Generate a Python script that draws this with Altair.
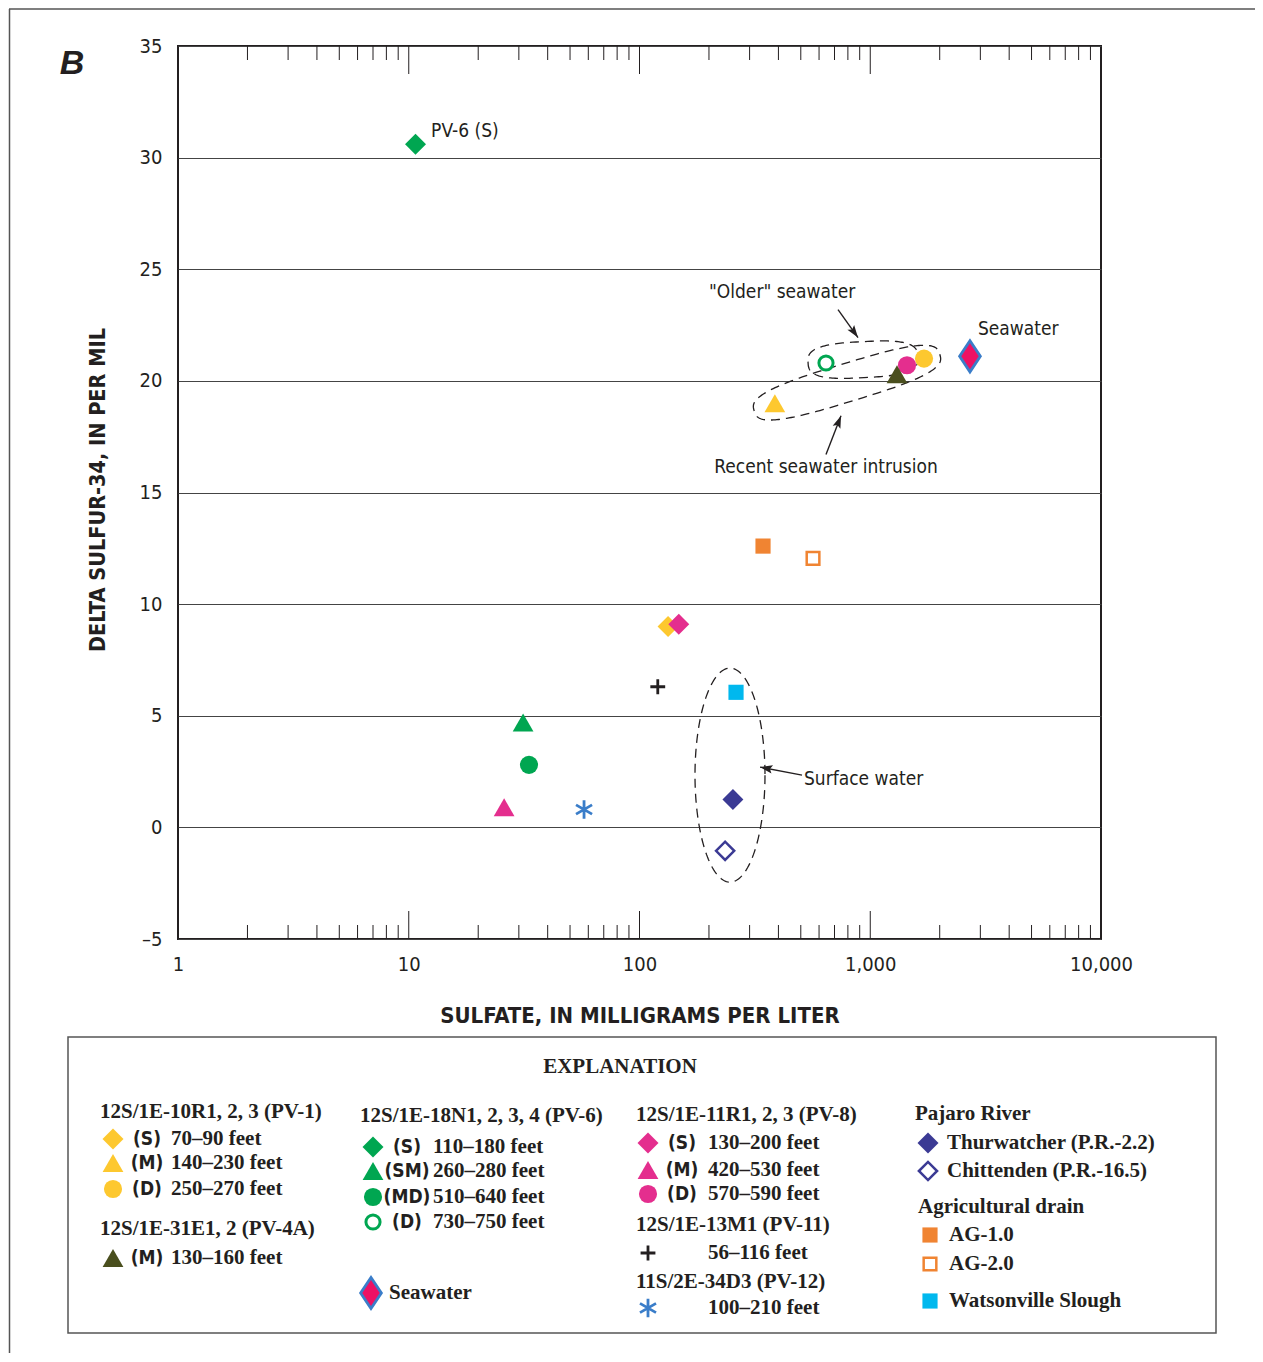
import altair as alt
import numpy as np
import pandas as pd

# ---------------- data ----------------
series = ["PV-6 (S)", "PV-6 (SM)", "PV-6 (MD)", "PV-6 (D)", "PV-8 (M)", "PV-8 (D)",
          "PV-4A (M)", "PV-1 (D)", "PV-1 (M)", "Seawater", "AG-1.0", "AG-2.0",
          "PV-1 (S)", "PV-8 (S)", "PV-11", "Watsonville Slough", "PV-12",
          "Thurwatcher", "Chittenden"]
sulfate = [10.7, 31.3, 33.2, 643, 25.9, 1443, 1306, 1710, 386, 2705, 343, 565,
           133, 148, 120, 262, 57.5, 254, 235]
delta34 = [30.6, 4.7, 2.8, 20.8, 0.9, 20.7, 20.3, 21.0, 19.0, 21.1, 12.6, 12.05,
           9.0, 9.1, 6.3, 6.05, 0.8, 1.25, -1.05]

y_ticks = [-5, 0, 5, 10, 15, 20, 25, 30, 35]
x_labels = [1, 10, 100, 1000, 10000]

ann_text = ["PV-6 (S)", "\"Older\" seawater", "Seawater", "Recent seawater intrusion", "Surface water"]
ann_x = [12.5, 415, 2930, 643, 516]
ann_y = [31.2, 24.0, 22.34, 16.12, 2.16]
ann_align = ["left", "center", "left", "center", "left"]

arrow_name = ["older", "recent", "surface"]
arrow_tail_x = [725, 643, 506]
arrow_tail_y = [23.19, 16.70, 2.34]
arrow_tip_x = [885, 747, 333]
arrow_tip_y = [21.94, 18.44, 2.70]

encl_name = ["older", "recent", "surface"]
encl_cx = [930, 793, 246.7]
encl_cy = [20.95, 19.92, 2.34]

# ---------------- styles / layout ----------------
W, H = 923, 893
OX, OY = 178, 46  # plot origin on the page
DARK = "#231F20"
SANS = "'Liberation Sans Narrow', 'DejaVu Sans Condensed', 'Roboto Condensed', Roboto, sans-serif"
SERIF = "'Liberation Serif', 'Times New Roman', serif"

YEL, GRN, PNK, OLV = "#FDC82F", "#00A651", "#E42E8E", "#4A4F1E"
ORG, CYN, NAVY, BLU, SEA = "#F08432", "#00B8EE", "#3B3A94", "#3A7DC9", "#ED1164"
PLUS = "M-1,0L1,0M0,-1L0,1"
AST = "M0,-1L0,1M-0.87,-0.5L0.87,0.5M-0.87,0.5L0.87,-0.5"
SEAD = "M0,-1.5L1,0L0,1.5L-1,0Z"

style = {  # shape, fill, stroke, strokeWidth, size
    "PV-1 (S)": ("diamond", YEL, YEL, 0, 440),
    "PV-1 (M)": ("triangle-up", YEL, YEL, 0, 430),
    "PV-1 (D)": ("circle", YEL, YEL, 0, 330),
    "PV-4A (M)": ("triangle-up", OLV, OLV, 0, 430),
    "PV-6 (S)": ("diamond", GRN, GRN, 0, 440),
    "PV-6 (SM)": ("triangle-up", GRN, GRN, 0, 430),
    "PV-6 (MD)": ("circle", GRN, GRN, 0, 330),
    "PV-6 (D)": ("circle", "white", GRN, 3, 200),
    "PV-8 (S)": ("diamond", PNK, PNK, 0, 440),
    "PV-8 (M)": ("triangle-up", PNK, PNK, 0, 430),
    "PV-8 (D)": ("circle", PNK, PNK, 0, 330),
    "PV-11": ("PLUS", "white", DARK, 2.8, 220),
    "PV-12": ("AST", "white", BLU, 2.8, 340),
    "Thurwatcher": ("diamond", NAVY, NAVY, 0, 440),
    "Chittenden": ("diamond", "white", NAVY, 2.5, 330),
    "AG-1.0": ("square", ORG, ORG, 0, 230),
    "AG-2.0": ("square", "white", ORG, 2.5, 160),
    "Watsonville Slough": ("square", CYN, CYN, 0, 230),
    "Seawater": ("SEAD", SEA, BLU, 2.8, 430),
}
shape_map = {"PLUS": PLUS, "AST": AST, "SEAD": SEAD}

encl_a = [55, 97, 35]      # half-length in px
encl_b = [18, 19, 107]     # half-width in px
encl_rot = [3, 17, 0]      # degrees, counter-clockwise
encl_pow = [3.0, 3.0, 2.0]


def to_px(xv, yv):
    return W * np.log10(xv) / 4.0, H * (35 - np.asarray(yv)) / 40.0


def to_data(px, py):
    return 10 ** (4.0 * np.asarray(px) / W), 35 - 40.0 * np.asarray(py) / H


def style_cols(keys):
    return dict(
        shape=[shape_map.get(style[k][0], style[k][0]) for k in keys],
        fill=[style[k][1] for k in keys],
        stroke=[style[k][2] for k in keys],
        sw=[style[k][3] for k in keys],
        size=[style[k][4] for k in keys],
    )


# ---------------- tables ----------------
pts = pd.DataFrame(dict(series=series, x=sulfate, y=delta34, **style_cols(series)))

rows = []
for i, name in enumerate(encl_name):
    pcx, pcy = to_px(encl_cx[i], encl_cy[i])
    t = np.linspace(0, 2 * np.pi, 181)
    ct, st = np.cos(t), np.sin(t)
    p = encl_pow[i]
    ex = encl_a[i] * np.sign(ct) * np.abs(ct) ** (2 / p)
    ey = encl_b[i] * np.sign(st) * np.abs(st) ** (2 / p)
    th = np.radians(encl_rot[i])
    px = pcx + ex * np.cos(th) + ey * np.sin(th)
    py = pcy - ex * np.sin(th) + ey * np.cos(th)
    dx, dy = to_data(px, py)
    for j in range(len(t)):
        rows.append(dict(name=name, i=j, x=dx[j], y=dy[j]))
encl = pd.DataFrame(rows)

arr = pd.DataFrame(dict(name=arrow_name, x=arrow_tail_x, y=arrow_tail_y,
                        x2=arrow_tip_x, y2=arrow_tip_y))
tpx, tpy = to_px(np.array(arrow_tail_x), np.array(arrow_tail_y))
hpx, hpy = to_px(np.array(arrow_tip_x), np.array(arrow_tip_y))
arr["ang"] = np.mod(np.degrees(np.arctan2(hpx - tpx, -(hpy - tpy))), 360)

ann = pd.DataFrame(dict(text=ann_text, x=ann_x, y=ann_y, al=ann_align))

minor = [m * 10 ** k for k in range(4) for m in range(2, 10)]
major = [10, 100, 1000]
ticks = pd.DataFrame(dict(v=minor + major, len=[14] * len(minor) + [28] * len(major)))
ticks["top"] = ticks["len"]
ticks["bot"] = H - ticks["len"]
ticks["y0"] = 0
ticks["yH"] = H

# legend layout (page coordinates)
leg_items = [
    ("PV-1 (S)", "(S)", "70–90 feet", 113, 147, 171, 1139),
    ("PV-1 (M)", "(M)", "140–230 feet", 113, 147, 171, 1163),
    ("PV-1 (D)", "(D)", "250–270 feet", 113, 147, 171, 1189),
    ("PV-4A (M)", "(M)", "130–160 feet", 113, 147, 171, 1258),
    ("PV-6 (S)", "(S)", "110–180 feet", 373, 407, 433, 1147),
    ("PV-6 (SM)", "(SM)", "260–280 feet", 373, 407, 433, 1171),
    ("PV-6 (MD)", "(MD)", "510–640 feet", 373, 407, 433, 1197),
    ("PV-6 (D)", "(D)", "730–750 feet", 373, 407, 433, 1222),
    ("Seawater", "", "Seawater", 371, 0, 389, 1293),
    ("PV-8 (S)", "(S)", "130–200 feet", 648, 682, 708, 1143),
    ("PV-8 (M)", "(M)", "420–530 feet", 648, 682, 708, 1170),
    ("PV-8 (D)", "(D)", "570–590 feet", 648, 682, 708, 1194),
    ("PV-11", "", "56–116 feet", 648, 0, 708, 1253),
    ("PV-12", "", "100–210 feet", 648, 0, 708, 1308),
    ("Thurwatcher", "", "Thurwatcher (P.R.-2.2)", 928, 0, 947, 1143),
    ("Chittenden", "", "Chittenden (P.R.-16.5)", 928, 0, 947, 1171),
    ("AG-1.0", "", "AG-1.0", 930, 0, 949, 1235),
    ("AG-2.0", "", "AG-2.0", 930, 0, 949, 1264),
    ("Watsonville Slough", "", "Watsonville Slough", 930, 0, 949, 1301),
]
leg_headers = [
    ("12S/1E-10R1, 2, 3 (PV-1)", 100, 1112),
    ("12S/1E-31E1, 2 (PV-4A)", 100, 1229),
    ("12S/1E-18N1, 2, 3, 4 (PV-6)", 360, 1116),
    ("12S/1E-11R1, 2, 3 (PV-8)", 636, 1115),
    ("12S/1E-13M1 (PV-11)", 636, 1225),
    ("11S/2E-34D3 (PV-12)", 636, 1282),
    ("Pajaro River", 915, 1114),
    ("Agricultural drain", 918, 1207),
]

keys = [r[0] for r in leg_items]
leg_sym = pd.DataFrame(dict(series=keys, px=[r[3] - OX for r in leg_items],
                            py=[r[6] - OY for r in leg_items], **style_cols(keys)))
leg_codes = pd.DataFrame(dict(text=[r[1] for r in leg_items if r[1]],
                              px=[r[4] - OX for r in leg_items if r[1]],
                              py=[r[6] - OY for r in leg_items if r[1]]))
leg_text = pd.DataFrame(dict(
    text=[r[2] for r in leg_items] + [h[0] for h in leg_headers],
    px=[r[5] - OX for r in leg_items] + [h[1] - OX for h in leg_headers],
    py=[r[6] - OY for r in leg_items] + [h[2] - OY for h in leg_headers]))

# ---------------- chart ----------------
xs = alt.Scale(type="log", domain=[1, 10000], nice=False)
ys = alt.Scale(domain=[-5, 35], nice=False, zero=False)


def X(f, **kw):
    return alt.X(f, scale=xs, axis=None, **kw)


def Y(f, **kw):
    return alt.Y(f, scale=ys, axis=None, **kw)


PX = lambda f: alt.X(f, scale=None, axis=None)
PY = lambda f: alt.Y(f, scale=None, axis=None)

base = alt.Chart(encl).mark_line(color=DARK, strokeWidth=1.3, strokeDash=[9, 6]).encode(
    x=alt.X("x:Q", scale=xs, axis=alt.Axis(
        values=x_labels, format=",", labelFont=SANS, labelFontSize=20, labelColor=DARK,
        ticks=False, domain=False, grid=False, labelPadding=15, labelFlush=False,
        labelOverlap=False, title="SULFATE, IN MILLIGRAMS PER LITER", titleFont=SANS,
        titleFontSize=22, titleFontWeight="bold", titleColor=DARK, titleX=W / 2,
        titleY=76, titleBaseline="middle", titleAlign="center")),
    y=alt.Y("y:Q", scale=ys, axis=alt.Axis(
        values=y_ticks, labelExpr="datum.value < 0 ? '–' + abs(datum.value) : datum.label",
        labelFont=SANS, labelFontSize=20, labelColor=DARK, ticks=False, domain=False,
        grid=True, gridColor="#444", gridWidth=1, labelPadding=16,
        title="DELTA SULFUR-34, IN PER MIL", titleFont=SANS, titleFontSize=21.5,
        titleFontWeight="bold", titleColor=DARK, titleX=-80, titleY=H / 2 - 3,
        titleAngle=270, titleBaseline="middle", titleAlign="center")),
    detail="name:N", order="i:Q")

tick_bot = alt.Chart(ticks).mark_rule(color=DARK, strokeWidth=1).encode(
    x=X("v:Q"), y=PY("bot:Q"), y2="yH:Q")
tick_top = alt.Chart(ticks).mark_rule(color=DARK, strokeWidth=1).encode(
    x=X("v:Q"), y=PY("y0:Q"), y2="top:Q")

arrow_lines = alt.Chart(arr).mark_rule(color=DARK, strokeWidth=1.4).encode(
    x=X("x:Q"), y=Y("y:Q"), x2="x2:Q", y2="y2:Q")
arrow_heads = alt.Chart(arr).mark_point(
    shape="M0,0L0.7,2.1L0,1.7L-0.7,2.1Z", filled=True, color=DARK, opacity=1, size=140).encode(
    x=X("x2:Q"), y=Y("y2:Q"), angle=alt.Angle("ang:Q", scale=None))

points = alt.Chart(pts).mark_point(filled=True, opacity=1).encode(
    x=X("x:Q"), y=Y("y:Q"),
    shape=alt.Shape("shape:N", scale=None, legend=None),
    fill=alt.Fill("fill:N", scale=None, legend=None),
    stroke=alt.Stroke("stroke:N", scale=None, legend=None),
    strokeWidth=alt.StrokeWidth("sw:Q", scale=None, legend=None),
    size=alt.Size("size:Q", scale=None, legend=None))

ann_l = alt.Chart(ann[ann["al"] == "left"]).mark_text(
    font=SANS, fontSize=19, color=DARK, align="left", baseline="middle").encode(
    x=X("x:Q"), y=Y("y:Q"), text="text:N")
ann_c = alt.Chart(ann[ann["al"] == "center"]).mark_text(
    font=SANS, fontSize=19, color=DARK, align="center", baseline="middle").encode(
    x=X("x:Q"), y=Y("y:Q"), text="text:N")

panel_b = alt.Chart(pd.DataFrame(dict(t=["B"]))).mark_text(
    font="'Liberation Sans', Arial, sans-serif", fontSize=34, fontWeight="bold",
    fontStyle="italic", color=DARK, align="center", baseline="middle").encode(
    x=alt.value(72 - OX), y=alt.value(64 - OY), text="t:N")

frame_top = alt.Chart(pd.DataFrame(dict(a=[0]))).mark_rule(color="#555", strokeWidth=1.5).encode(
    x=alt.value(9 - OX), x2=alt.value(W + 160), y=alt.value(-37))
frame_left = alt.Chart(pd.DataFrame(dict(a=[0]))).mark_rule(color="#555", strokeWidth=1.5).encode(
    x=alt.value(9.5 - OX), y=alt.value(-37), y2=alt.value(H + 420))

leg_box = alt.Chart(pd.DataFrame(dict(a=[0]))).mark_rect(
    fillOpacity=0, stroke="#555", strokeWidth=1.5).encode(
    x=alt.value(68 - OX), x2=alt.value(1216 - OX), y=alt.value(1037 - OY), y2=alt.value(1333 - OY))

leg_title = alt.Chart(pd.DataFrame(dict(t=["EXPLANATION"]))).mark_text(
    font=SERIF, fontSize=21, fontWeight="bold", color=DARK, align="center", baseline="middle").encode(
    x=alt.value(620 - OX), y=alt.value(1067 - OY), text="t:N")

leg_points = alt.Chart(leg_sym).mark_point(filled=True, opacity=1).encode(
    x=PX("px:Q"), y=PY("py:Q"),
    shape=alt.Shape("shape:N", scale=None, legend=None),
    fill=alt.Fill("fill:N", scale=None, legend=None),
    stroke=alt.Stroke("stroke:N", scale=None, legend=None),
    strokeWidth=alt.StrokeWidth("sw:Q", scale=None, legend=None),
    size=alt.Size("size:Q", scale=None, legend=None))

leg_txt = alt.Chart(leg_text).mark_text(
    font=SERIF, fontSize=21, fontWeight="bold", color=DARK, align="left", baseline="middle").encode(
    x=PX("px:Q"), y=PY("py:Q"), text="text:N")

leg_cd = alt.Chart(leg_codes).mark_text(
    font=SANS, fontSize=19, fontWeight="bold", color=DARK, align="center", baseline="middle").encode(
    x=PX("px:Q"), y=PY("py:Q"), text="text:N")

chart = alt.layer(
    base, tick_bot, tick_top, arrow_lines, arrow_heads, points, ann_l, ann_c,
    panel_b, frame_top, frame_left, leg_box, leg_title, leg_points, leg_txt, leg_cd
).resolve_scale(x="independent", y="independent").properties(
    width=W, height=H,
    padding={"left": 170, "top": 38, "right": 154, "bottom": 414},
    autosize=alt.AutoSizeParams(type="none"),
    background="white",
).configure_view(stroke=DARK, strokeWidth=2)

chart.save("out.html", embed_options={"renderer": "svg", "actions": False})
